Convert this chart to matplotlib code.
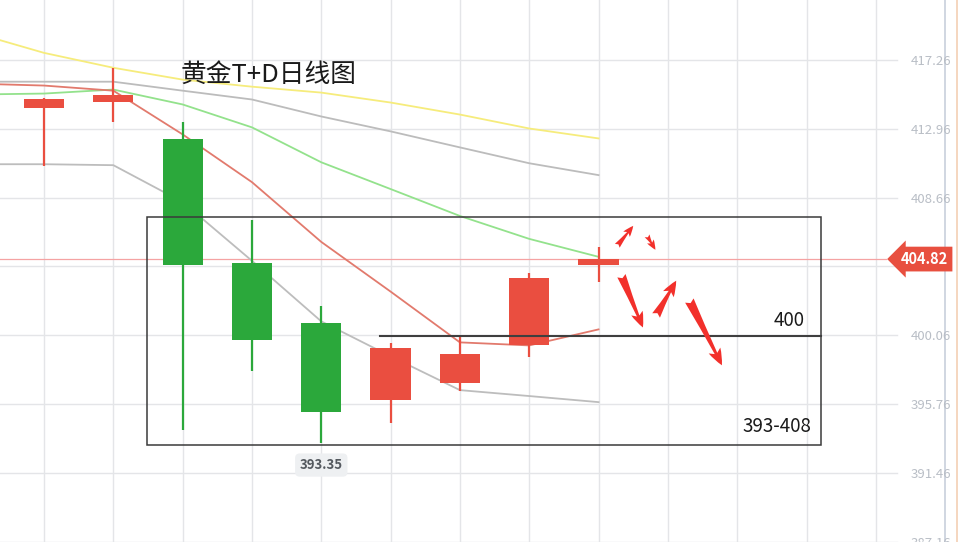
import matplotlib
matplotlib.use("Agg")
import matplotlib.pyplot as plt
from matplotlib.patches import Rectangle

plt.rcParams['font.family'] = ['Noto Sans CJK SC', 'DejaVu Sans']

# Daily candles (index 0..8)
opens  = [414.28, 414.65, 412.29, 404.59, 400.86, 396.02, 397.07, 399.43, 404.47]
highs  = [414.90, 416.76, 413.35, 407.26, 401.92, 399.56, 400.00, 403.97, 405.57]
lows   = [410.61, 413.35, 394.15, 397.82, 393.35, 394.59, 396.58, 398.69, 403.41]
closes = [414.78, 415.09, 404.47, 399.74, 395.27, 399.25, 398.88, 403.66, 404.82]

# Moving averages, starting one session before the first visible candle (index -1..8)
ma_yellow = [418.94, 417.69, 416.76, 416.02, 415.58, 415.21, 414.59, 413.84, 412.97, 412.35]
ma_gray_hi = [415.89, 415.89, 415.89, 415.33, 414.78, 413.72, 412.79, 411.79, 410.80, 410.06]
ma_green = [415.09, 415.15, 415.40, 414.47, 413.04, 410.86, 409.19, 407.51, 406.08, 404.96]
ma_red = [415.77, 415.65, 415.33, 412.60, 409.62, 405.89, 402.79, 399.62, 399.43, 400.43]
ma_gray_lo = [410.74, 410.74, 410.68, 408.38, 404.71, 400.93, 398.75, 396.64, 396.27, 395.89]

price_ticks = [387.16, 391.46, 395.76, 400.06, 404.36, 408.66, 412.96, 417.26]
last_price = 404.82
low_mark = 393.35
key_level = 400.0
zone_low, zone_high = 393.22, 407.45
zone_label = "393-408"
level_label = "400"
title = "黄金T+D日线图"

# projected path arrows: (tail, head, size)
arrows = [((8.27, 405.65), (8.50, 406.89), 11),
          ((8.70, 406.27), (8.82, 405.40), 10),
          ((8.33, 403.78), (8.64, 400.55), 16),
          ((8.83, 401.30), (9.12, 403.47), 16),
          ((9.31, 402.23), (9.78, 398.19), 17)]

UP = '#ea4e40'
DOWN = '#2ba83b'

fig = plt.figure(figsize=(9.59, 5.42), dpi=100)
ax = fig.add_axes([0, 0, 1, 1])
ax.set_xlim(-0.635, 13.2)
ax.set_ylim(387.32, 420.99)
for s in ax.spines.values():
    s.set_visible(False)
ax.set_xticks([])

# right-hand price scale drawn inside the plot
ax.yaxis.tick_right()
ax.set_yticks(price_ticks)
ax.set_yticklabels([f"{v:.2f}" for v in price_ticks])
ax.tick_params(axis='y', length=0, pad=-34.5, labelsize=9.5, labelcolor='#b9bec6')

# grid
grid_right = 12.31
for v in price_ticks:
    ax.plot([-1, grid_right], [v, v], color='#e4e5e8', lw=1.0, zorder=0)
for i in range(0, 13):
    ax.axvline(i, color='#e4e5e8', lw=1.0, zorder=0)
ax.axvline(13, color='#c8d0dc', lw=1.2, zorder=0)
ax.axvline(13.17, color='#f3cfb4', lw=1.2, zorder=0)

# last price line
ax.plot([-1, 12.15], [last_price, last_price], color='#f5a3a3', lw=0.9, zorder=1)

# moving averages
ma_x = list(range(-1, 9))
for series, col in [(ma_yellow, '#f6ec7c'), (ma_gray_hi, '#bcbcbc'),
                    (ma_green, '#93e28c'), (ma_red, '#e27a6d'),
                    (ma_gray_lo, '#bdbdbd')]:
    ax.plot(ma_x, series, color=col, lw=1.3, zorder=2)

# candles
w = 0.58
for i, (o, h, l, c) in enumerate(zip(opens, highs, lows, closes)):
    col = UP if c >= o else DOWN
    ax.vlines(i, l, h, color=col, lw=1.6, zorder=3)
    ax.bar(i, abs(c - o), width=w, bottom=min(o, c), color=col, zorder=4)

# analysis box and key level
ax.add_patch(Rectangle((1.486, zone_low), 11.21 - 1.486, zone_high - zone_low,
                       fill=False, ec='#3a3a3a', lw=1.1, zorder=5))
ax.plot([4.85, 11.21], [key_level, key_level], color='#3f3f3f', lw=1.5, zorder=5)
ax.text(10.98, 400.99, level_label, ha='right', va='center', fontsize=13.5, color='#1a1a1a', zorder=6)
ax.text(11.07, 394.40, zone_label, ha='right', va='center', fontsize=13.5, color='#1a1a1a', zorder=6)

ax.text(1.97, 416.33, title, ha='left', va='center', fontsize=18.5, color='#1a1a1a', zorder=6)

for (tx, ty), (hx, hy), size in arrows:
    ax.annotate('', xy=(hx, hy), xytext=(tx, ty),
                arrowprops=dict(arrowstyle='fancy,head_length=0.7,head_width=0.55,tail_width=0.4',
                                color='#f2302b', lw=0, shrinkA=0, shrinkB=0,
                                mutation_scale=size), zorder=7)

# last price tag
ax.text(12.36, last_price, f"{last_price:.2f}", ha='left', va='center', fontsize=10.5,
        color='white', fontweight='bold', zorder=8,
        bbox=dict(boxstyle='larrow,pad=0.3', fc='#e84f3f', ec='none'))

# lowest price marker
ax.annotate(f"{low_mark:.2f}", xy=(4, low_mark), xytext=(0, -16), textcoords='offset points',
            ha='center', va='center', fontsize=9.5, color='#555a60', fontweight='bold',
            bbox=dict(boxstyle='round,pad=0.35', fc='#eef0f2', ec='none'), zorder=8)

fig.savefig("out.png", dpi=100)
